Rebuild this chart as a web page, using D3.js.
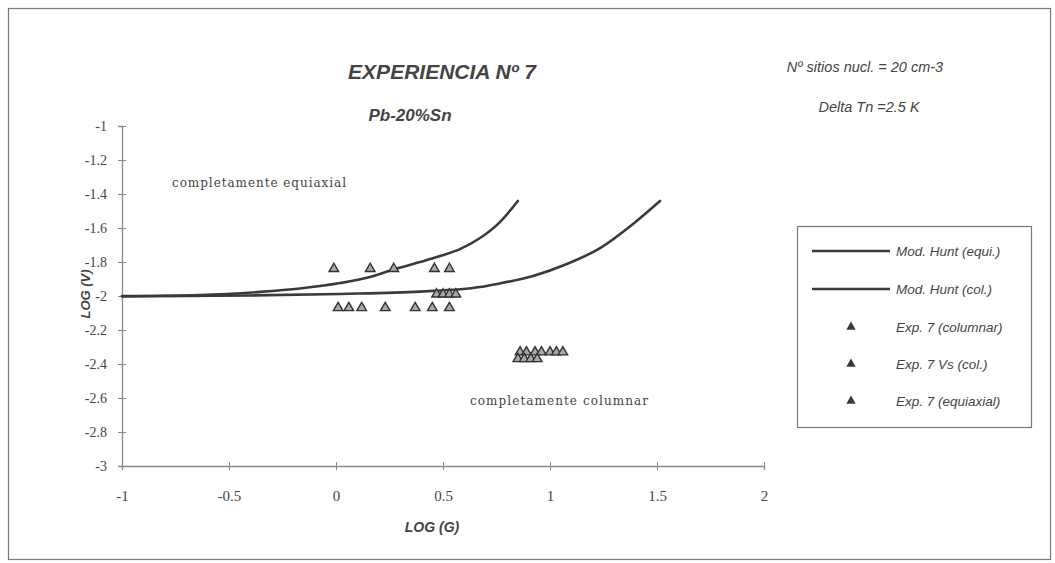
<!DOCTYPE html>
<html>
<head>
<meta charset="utf-8">
<script src="https://cdn.jsdelivr.net/npm/d3@7"></script>
<style>
  html, body { margin: 0; padding: 0; background: #ffffff; }
  svg { display: block; }
</style>
</head>
<body>
<svg id="chart" width="1055" height="563"></svg>
<script>
// Hunt model curves, log(G) vs log(V)
const huntEquiX = [-1.0, -0.636, -0.355, -0.168, 0.019, 0.159, 0.276, 0.393, 0.486, 0.579, 0.673, 0.766, 0.85];
const huntEquiY = [-2.0, -1.994, -1.976, -1.956, -1.924, -1.888, -1.841, -1.8, -1.765, -1.724, -1.659, -1.565, -1.441];
const huntColX  = [-1.0, -0.402, 0.019, 0.393, 0.673, 0.766, 0.921, 1.079, 1.234, 1.388, 1.514];
const huntColY  = [-2.003, -1.997, -1.988, -1.974, -1.947, -1.926, -1.882, -1.812, -1.718, -1.576, -1.441];

// Experiment 7 measurements
const expColumnarX = [0.01, 0.06, 0.12, 0.23, 0.37, 0.45, 0.53, 0.47, 0.50, 0.53, 0.56];
const expColumnarY = [-2.07, -2.07, -2.07, -2.07, -2.07, -2.07, -2.07, -1.99, -1.99, -1.99, -1.99];
const expVsColX = [0.86, 0.89, 0.93, 0.96, 1.0, 1.03, 1.06, 0.85, 0.88, 0.91, 0.94];
const expVsColY = [-2.33, -2.33, -2.33, -2.33, -2.33, -2.33, -2.33, -2.37, -2.37, -2.37, -2.37];
const expEquiX = [-0.01, 0.16, 0.27, 0.46, 0.53];
const expEquiY = [-1.84, -1.84, -1.84, -1.84, -1.84];

// Axis ticks
const xTicks = [-1, -0.5, 0, 0.5, 1, 1.5, 2];
const xTickLabels = ["-1", "-0.5", "0", "0.5", "1", "1.5", "2"];
const yTicks = [-1, -1.2, -1.4, -1.6, -1.8, -2, -2.2, -2.4, -2.6, -2.8, -3];
const yTickLabels = ["-1", "-1.2", "-1.4", "-1.6", "-1.8", "-2", "-2.2", "-2.4", "-2.6", "-2.8", "-3"];

const legendLabels = ["Mod. Hunt (equi.)", "Mod. Hunt (col.)", "Exp. 7 (columnar)", "Exp. 7 Vs (col.)", "Exp. 7 (equiaxial)"];

const svg = d3.select("#chart");
const ink = "#3a3a3a";
const axisInk = "#8a8a8a";
const sans = "'Liberation Sans', Arial, sans-serif";
const serif = "'Liberation Serif', 'Times New Roman', serif";
const noteSerif = "'DejaVu Serif', serif";

// outer frame
svg.append("rect")
  .attr("x", 8.5).attr("y", 8.5)
  .attr("width", 1042).attr("height", 551)
  .attr("fill", "#ffffff")
  .attr("stroke", "#7a7a7a").attr("stroke-width", 1.2);

const x = d3.scaleLinear().domain([-1, 2]).range([122, 764]);
const y = d3.scaleLinear().domain([-3, -1]).range([466, 126]);

// y axis
const yAxis = svg.append("g")
  .attr("transform", `translate(${x(-1)},0)`)
  .call(d3.axisLeft(y).tickValues(yTicks).tickSize(4).tickPadding(11)
        .tickFormat((d, i) => yTickLabels[i]));
yAxis.select(".domain").attr("stroke", axisInk).attr("stroke-width", 1.3);
yAxis.selectAll(".tick line").attr("stroke", axisInk).attr("x1", 4);
yAxis.selectAll(".tick text")
  .attr("font-family", serif).attr("font-size", 14).attr("fill", "#444");

// x axis
const xAxis = svg.append("g")
  .attr("transform", `translate(0,${y(-3)})`)
  .call(d3.axisBottom(x).tickValues(xTicks).tickSize(4).tickPadding(20)
        .tickFormat((d, i) => xTickLabels[i]));
xAxis.select(".domain").attr("stroke", axisInk).attr("stroke-width", 1.3);
xAxis.selectAll(".tick line").attr("stroke", axisInk).attr("y1", -4);
xAxis.selectAll(".tick text")
  .attr("font-family", serif).attr("font-size", 15).attr("fill", "#444");

// curves
const line = d3.line().x(d => x(d[0])).y(d => y(d[1])).curve(d3.curveMonotoneX);
const equiPts = huntEquiX.map((v, i) => [v, huntEquiY[i]]);
const colPts = huntColX.map((v, i) => [v, huntColY[i]]);
[colPts, equiPts].forEach(pts => {
  svg.append("path").datum(pts)
    .attr("d", line)
    .attr("fill", "none")
    .attr("stroke", ink).attr("stroke-width", 2.6)
    .attr("stroke-linecap", "round");
});

// markers
const tri = d3.symbol().type(d3.symbolTriangle).size(40);
function drawSeries(xs, ys) {
  svg.append("g").selectAll("path")
    .data(xs.map((v, i) => [v, ys[i]]))
    .join("path")
    .attr("d", tri)
    .attr("transform", d => `translate(${x(d[0])},${y(d[1])})`)
    .attr("fill", "#a8a8a8")
    .attr("stroke", "#333").attr("stroke-width", 1.4);
}
drawSeries(expColumnarX, expColumnarY);
drawSeries(expVsColX, expVsColY);
drawSeries(expEquiX, expEquiY);

// titles
svg.append("text").attr("x", 442).attr("y", 79).attr("text-anchor", "middle")
  .attr("font-family", sans).attr("font-weight", "bold").attr("font-style", "italic")
  .attr("font-size", 21).attr("fill", "#444")
  .text("EXPERIENCIA Nº 7");
svg.append("text").attr("x", 410).attr("y", 121).attr("text-anchor", "middle")
  .attr("font-family", sans).attr("font-weight", "bold").attr("font-style", "italic")
  .attr("font-size", 17).attr("fill", "#444")
  .text("Pb-20%Sn");

svg.append("text").attr("x", 865).attr("y", 72).attr("text-anchor", "middle")
  .attr("font-family", sans).attr("font-style", "italic")
  .attr("font-size", 14.5).attr("fill", "#444")
  .text("Nº sitios nucl. = 20 cm-3");
svg.append("text").attr("x", 869).attr("y", 112).attr("text-anchor", "middle")
  .attr("font-family", sans).attr("font-style", "italic")
  .attr("font-size", 14.5).attr("fill", "#444")
  .text("Delta Tn =2.5 K");

// region annotations
svg.append("text").attr("x", 172).attr("y", 187)
  .attr("font-family", noteSerif).attr("font-size", 12).attr("fill", "#444")
  .attr("textLength", 174)
  .text("completamente equiaxial");
svg.append("text").attr("x", 470).attr("y", 405)
  .attr("font-family", noteSerif).attr("font-size", 12).attr("fill", "#444")
  .attr("textLength", 178)
  .text("completamente columnar");

// axis titles
svg.append("text").attr("x", 432).attr("y", 532).attr("text-anchor", "middle")
  .attr("font-family", sans).attr("font-weight", "bold").attr("font-style", "italic")
  .attr("font-size", 14).attr("fill", "#444")
  .text("LOG (G)");
svg.append("text")
  .attr("transform", "translate(90,294) rotate(-90)")
  .attr("text-anchor", "middle")
  .attr("font-family", sans).attr("font-weight", "bold").attr("font-style", "italic")
  .attr("font-size", 13).attr("fill", "#444")
  .text("LOG (V)");

// legend
const lg = svg.append("g");
lg.append("rect").attr("x", 797.5).attr("y", 226.5).attr("width", 234).attr("height", 201)
  .attr("fill", "#ffffff").attr("stroke", "#777").attr("stroke-width", 1.2);
const rowY = [251, 289, 327, 364, 401];
legendLabels.forEach((lab, i) => {
  const cy = rowY[i];
  if (i < 2) {
    lg.append("line").attr("x1", 812).attr("x2", 890).attr("y1", cy).attr("y2", cy)
      .attr("stroke", ink).attr("stroke-width", 2.6);
  } else {
    lg.append("path").attr("d", d3.symbol().type(d3.symbolTriangle).size(38))
      .attr("transform", `translate(851,${cy})`)
      .attr("fill", "#3a3a3a");
  }
  lg.append("text").attr("x", 896).attr("y", cy + 4.5)
    .attr("font-family", sans).attr("font-style", "italic")
    .attr("font-size", 13.5).attr("fill", "#444")
    .text(lab);
});
</script>
</body>
</html>
